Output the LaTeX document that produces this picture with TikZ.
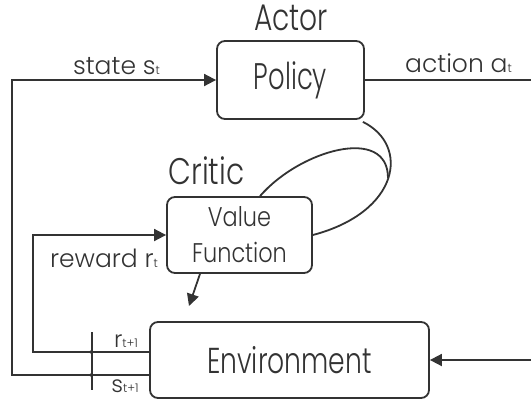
\documentclass[tikz,border=0pt]{standalone}
\usepackage{fontspec}
\setmainfont{Poppins Light}
\usetikzlibrary{arrows.meta}
\definecolor{ink}{HTML}{333333}
% small index after a variable name
\newcommand\idx[1]{{\fontsize{12}{12}\selectfont #1}}
% horizontally narrowed text
\newcommand\narrow[2]{\scalebox{#1}[1]{#2}}
\tikzset{
  box/.style={draw=ink, line width=1.8pt, rounded corners=8pt, inner sep=0pt, text=ink, align=center},
  wire/.style={draw=ink, line width=1.8pt},
  head/.style={-{Triangle[length=12pt,width=12pt]}},
  tinyhead/.style={-{Triangle[length=4pt,width=4pt]}},
  lbl/.style={text=ink, inner sep=0pt, anchor=base, font=\fontsize{25}{25}\selectfont},
  steplbl/.style={text=ink, inner sep=0pt, anchor=base, font=\fontsize{23}{23}\selectfont},
  heading/.style={text=ink, inner sep=0pt, anchor=base, font=\fontsize{37}{37}\selectfont},
}
\begin{document}
\begin{tikzpicture}[x=1pt, y=-1pt]
  \clip (0,0) rectangle (531,400);

  % boxes
  \node[box, minimum width=147pt, minimum height=78pt, font=\fontsize{37}{37}\selectfont] (policy) at (290.5,80) {\narrow{0.70}{Policy}};
  \node[box, minimum width=145pt, minimum height=76pt, font=\fontsize{27}{36}\selectfont] (vf) at (239.5,235) {\narrow{0.83}{Value}\\\narrow{0.83}{Function}};
  \node[box, minimum width=279pt, minimum height=76pt, font=\fontsize{36}{36}\selectfont] (env) at (289.5,360) {\narrow{0.74}{Environment}};

  % headings
  \node[heading] (actor) at (291,30) {\narrow{0.76}{Actor}};
  \node[heading] (critic) at (206.5,184) {\narrow{0.80}{Critic}};

  % loop coordinates outside the visible area
  \coordinate (actEnd) at (545,80);
  \coordinate (envIn) at (545,360);
  \coordinate (sCorner) at (12,375);
  \coordinate (sTop) at (12,80);
  \coordinate (rCorner) at (33,352);
  \coordinate (rTop) at (33,235);
  \coordinate (sBar) at (92,375);
  \coordinate (rBar) at (92,352);

  % action: policy -> environment
  \draw[wire, head] (policy.east) -- (actEnd) -- (envIn) -- (env.east);

  % state feedback
  \draw[wire] ([yshift=-15pt]env.west) -- (sBar);
  \draw[wire, head] (sBar) -- (sCorner) -- (sTop) -- (policy.west);
  \draw[ink, tinyhead] ([xshift=-1pt]sBar) -- ([xshift=-4pt]sBar);

  % reward feedback
  \draw[wire] ([yshift=8pt]env.west) -- (rBar);
  \draw[wire, head] (rBar) -- (rCorner) -- (rTop) -- (vf.west);
  \draw[ink, tinyhead] ([xshift=-1pt]rBar) -- ([xshift=-4pt]rBar);

  % time step bar
  \draw[wire] (92,332) -- (92,390);

  % critic output
  \coordinate (vfOut) at (189,306);
  \draw[wire, head] ([xshift=-39.5pt]vf.south) -- (vfOut);

  % critic / actor coupling
  \draw[wire] ([shift={(-2pt,-2pt)}]policy.south east) .. controls (410,145) and (400,212) .. (vf.east);
  \draw[wire] ([xshift=20.5pt]vf.north) .. controls (300,150) and (388,125) .. (388,178);

  % labels
  \node[lbl] (lstate) at (116.5,74) {state s\idx{t}};
  \node[lbl] (laction) at (458.5,72) {action a\idx{t}};
  \node[lbl] (lreward) at (104,267) {reward r\idx{t}};
  \node[steplbl] (lr1) at (126,347) {r\idx{t+1}};
  \node[steplbl] (ls1) at (125,392) {s\idx{t+1}};
\end{tikzpicture}
\end{document}
